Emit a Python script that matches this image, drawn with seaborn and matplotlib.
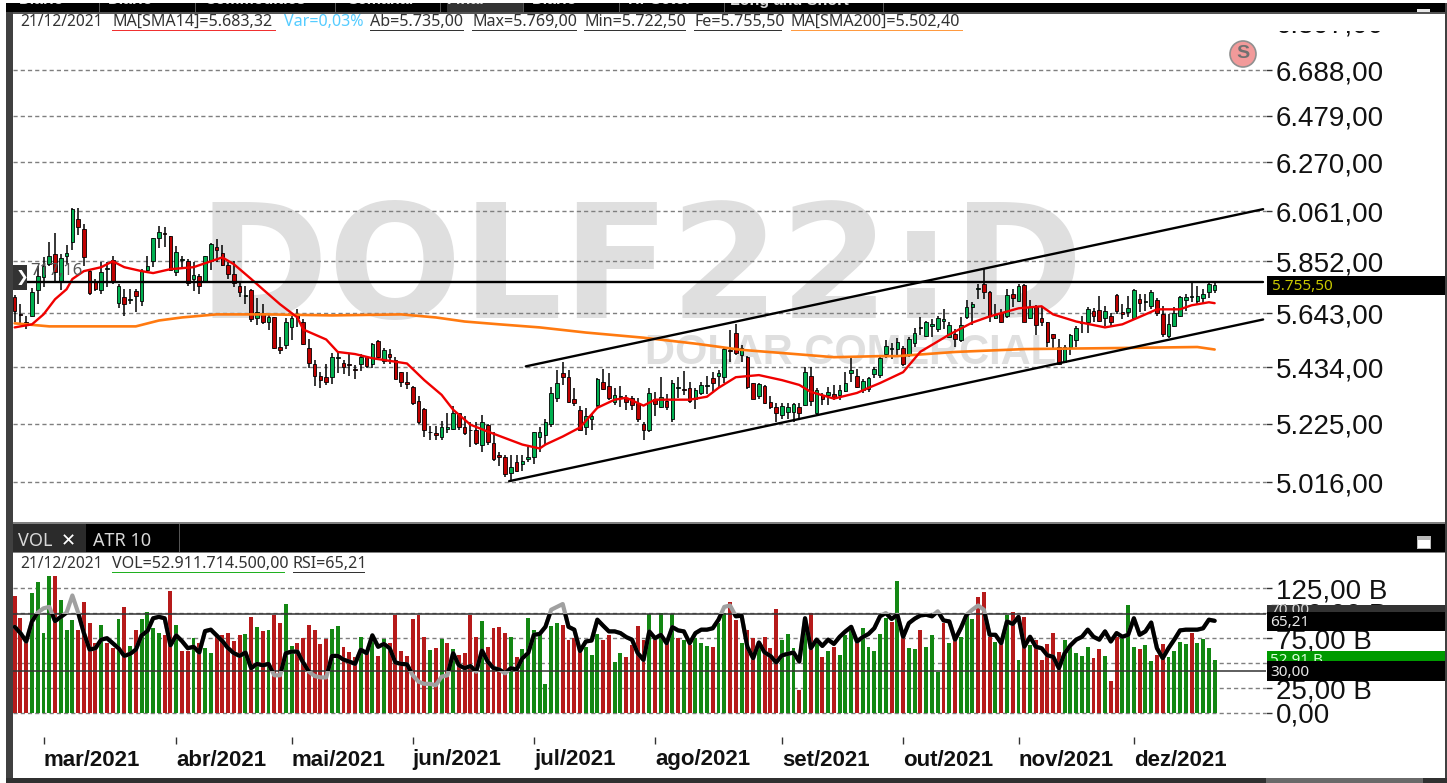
import matplotlib
matplotlib.use("Agg")
import matplotlib.pyplot as plt
from matplotlib.patches import Rectangle, Ellipse
from matplotlib.transforms import ScaledTranslation
import numpy as np
import pandas as pd
import seaborn as sns

W, H = 1447, 783

# candles, in price points, one per session
open_ = [5707,5639,5608,5631,5735,5788,5840,5880,5772,5872,
         5932,6029,5985,5812,5768,5735,5820,5856,5683,5707,
         5695,5731,5691,5816,5852,5948,5969,5957,5808,5856,
         5852,5780,5792,5768,5852,5912,5884,5836,5800,5752,
         5711,5735,5623,5643,5608,5627,5513,5521,5588,5635,
         5611,5509,5446,5401,5397,5397,5469,5450,5446,5427,
         5446,5473,5446,5537,5458,5485,5462,5416,5379,5361,
         5309,5280,5193,5189,5178,5207,5207,5262,5214,5200,
         5200,5146,5221,5153,5110,5106,5049,5085,5081,5096,
         5103,5178,5185,5225,5320,5412,5397,5317,5273,5214,
         5240,5295,5379,5364,5306,5324,5320,5320,5302,5225,
         5200,5317,5287,5309,5240,5357,5353,5357,5317,5339,
         5364,5394,5401,5397,5501,5568,5481,5473,5375,5327,
         5364,5306,5287,5258,5269,5269,5287,5295,5401,5265,
         5331,5331,5335,5331,5346,5412,5401,5350,5353,5408,
         5405,5485,5505,5505,5509,5485,5529,5584,5556,5592,
         5580,5615,5552,5564,5541,5627,5667,5739,5760,5727,
         5623,5643,5631,5719,5691,5756,5623,5667,5623,5608,
         5564,5513,5454,5513,5541,5604,5611,5651,5655,5623,
         5631,5715,5647,5647,5623,5699,5687,5671,5695,5639,
         5556,5592,5631,5695,5707,5691,5703,5727,5735]
high = [5715,5679,5631,5743,5832,5868,5932,5969,5880,5920,
        6073,6073,6005,5820,5780,5848,5848,5872,5760,5739,
        5739,5739,5820,5872,5948,5997,5993,5957,5916,5872,
        5860,5848,5800,5872,5928,5944,5920,5848,5852,5772,
        5752,5739,5703,5679,5639,5627,5552,5623,5635,5659,
        5619,5544,5462,5416,5446,5489,5497,5462,5485,5442,
        5485,5473,5529,5541,5509,5505,5473,5416,5416,5364,
        5327,5284,5218,5218,5236,5265,5291,5265,5251,5229,
        5229,5258,5225,5193,5121,5113,5113,5113,5110,5139,
        5193,5214,5240,5361,5423,5454,5423,5357,5291,5284,
        5265,5394,5427,5412,5357,5364,5331,5327,5320,5229,
        5357,5342,5397,5335,5386,5397,5419,5379,5357,5379,
        5401,5416,5423,5509,5576,5600,5521,5477,5375,5375,
        5368,5327,5302,5302,5302,5302,5302,5434,5434,5357,
        5339,5361,5368,5368,5416,5469,5427,5390,5397,5434,
        5481,5541,5529,5548,5517,5552,5584,5627,5615,5619,
        5631,5659,5608,5580,5627,5695,5687,5760,5824,5731,
        5679,5659,5739,5739,5760,5760,5695,5675,5671,5608,
        5564,5544,5521,5564,5592,5631,5667,5663,5711,5671,
        5643,5719,5679,5711,5739,5719,5719,5735,5703,5671,
        5639,5667,5711,5719,5768,5752,5739,5768,5769]
low = [5611,5600,5580,5627,5679,5747,5832,5768,5735,5840,
       5900,5961,5832,5715,5731,5719,5747,5760,5663,5631,
       5679,5647,5671,5808,5828,5908,5912,5812,5792,5828,
       5752,5731,5719,5764,5816,5848,5832,5780,5747,5707,
       5679,5611,5596,5600,5576,5505,5485,5505,5541,5588,
       5521,5430,5364,5357,5368,5372,5412,5408,5401,5390,
       5419,5430,5430,5469,5446,5446,5390,5361,5353,5295,
       5225,5178,5167,5167,5167,5189,5200,5203,5185,5139,
       5149,5124,5149,5092,5074,5034,5023,5052,5056,5088,
       5081,5124,5146,5214,5306,5368,5302,5291,5200,5185,
       5203,5287,5350,5313,5295,5287,5276,5276,5229,5167,
       5196,5251,5284,5273,5229,5320,5331,5302,5280,5331,
       5335,5339,5357,5375,5454,5481,5454,5353,5317,5317,
       5298,5280,5229,5240,5240,5232,5247,5291,5291,5258,
       5295,5295,5313,5313,5342,5379,5357,5339,5342,5394,
       5394,5469,5466,5481,5438,5473,5513,5560,5552,5552,
       5572,5580,5548,5513,5533,5619,5596,5699,5699,5608,
       5619,5604,5623,5667,5687,5608,5619,5560,5592,5513,
       5509,5442,5450,5481,5513,5568,5568,5611,5608,5592,
       5592,5639,5619,5627,5619,5647,5651,5659,5631,5552,
       5548,5588,5627,5651,5687,5679,5679,5703,5722.5]
close = [5651,5635,5600,5727,5792,5832,5872,5808,5864,5884,
         6069,5993,5868,5723,5739,5808,5824,5768,5752,5679,
         5699,5711,5812,5832,5948,5973,5965,5816,5892,5860,
         5764,5796,5752,5872,5924,5900,5836,5800,5764,5727,
         5715,5619,5647,5608,5627,5509,5501,5611,5623,5623,
         5525,5450,5401,5386,5379,5473,5473,5434,5442,5423,
         5473,5438,5525,5473,5501,5473,5390,5379,5372,5302,
         5229,5200,5196,5185,5214,5211,5265,5211,5189,5203,
         5153,5232,5157,5096,5106,5045,5070,5056,5092,5106,
         5193,5196,5229,5339,5375,5397,5306,5302,5203,5251,
         5251,5390,5353,5320,5331,5327,5306,5295,5243,5203,
         5339,5298,5324,5287,5375,5361,5350,5309,5350,5368,
         5368,5375,5412,5505,5497,5489,5509,5361,5317,5372,
         5302,5287,5265,5291,5287,5298,5265,5416,5309,5350,
         5317,5342,5324,5350,5375,5423,5361,5383,5394,5427,
         5469,5517,5509,5533,5446,5544,5568,5588,5608,5600,
         5623,5619,5596,5544,5596,5667,5679,5743,5727,5631,
         5635,5608,5715,5703,5752,5611,5667,5596,5611,5533,
         5548,5446,5513,5560,5584,5608,5659,5631,5615,5651,
         5608,5651,5639,5663,5735,5683,5691,5727,5643,5564,
         5600,5643,5707,5707,5711,5711,5719,5760,5755.5]

# moving averages read at their turning points
sma14_i = [0,3,5,7,9,10,12,15,17,19,22,24,27,31,33,36,38,41,43,46,49,50,54,56,59,62,68,71,74,76,79,82,88,91,92,95,98,
           101,104,106,109,111,117,120,122,125,129,133,136,138,142,146,148,150,154,157,162,166,169,174,178,180,184,
           189,192,196,198,202,204,207,208]
sma14_p = [5588,5600,5639,5699,5739,5780,5812,5828,5852,5828,5812,5804,5820,5828,5844,5868,5840,5780,5739,5679,5627,
           5580,5541,5493,5485,5469,5449,5386,5331,5276,5221,5196,5149,5135,5149,5178,5211,5283,5313,5320,5291,5313,
           5313,5324,5357,5397,5405,5386,5368,5342,5317,5338,5357,5375,5416,5494,5560,5607,5631,5663,5671,5639,5611,
           5588,5600,5639,5659,5659,5675,5687,5683.32]
sma200_i = [0,6,21,25,29,35,44,55,67,73,78,84,91,99,109,118,126,133,142,150,153,163,175,191,205,208]
sma200_p = [5604,5592,5592,5615,5627,5639,5639,5635,5639,5627,5611,5600,5588,5568,5548,5525,5501,5489,5473,5477,5477,
            5493,5504,5508,5512,5502.40]

# drawn trend channel and the resistance line
channel_up_i, channel_up_p = [88.6, 216.4], [5438, 6069]
channel_low_i, channel_low_p = [85.7, 216.4], [5019, 5619]
resist_i, resist_p = [-0.3, 216.4], [5768, 5768]

price_ticks = [5016, 5225, 5434, 5643, 5852, 6061, 6270, 6479, 6688]
price_labels = ["5.016,00", "5.225,00", "5.434,00", "5.643,00", "5.852,00", "6.061,00", "6.270,00", "6.479,00", "6.688,00"]

# volume in billions
volume = [117,95,75,120,131,80,137,137,113,83,93,83,111,90,70,88,70,65,94,106,67,83,94,101,85,80,78,122,88,62,62,75,70,65,60,
          76,78,80,72,78,79,96,86,82,83,98,90,109,67,70,75,88,83,69,74,84,87,66,61,56,76,60,78,57,74,70,98,62,57,94,98,76,
          63,65,74,70,64,58,60,98,76,
          92,66,85,86,80,76,56,64,95,83,80,29,87,90,88,73,75,63,66,58,79,73,78,51,60,56,68,87,73,99,75,100,75,99,75,73,68,
          75,70,67,66,90,100,111,93,70,83,75,71,76,65,104,73,79,65,23,94,100,70,56,62,66,58,78,83,71,85,66,62,79,95,91,132,
          76,65,64,83,66,78,41,90,70,75,
          76,100,94,116,121,76,71,70,98,101,53,96,68,73,53,69,80,61,73,67,60,57,66,55,64,57,32,76,76,108,66,64,68,52,58,69,
          56,62,71,69,80,70,74,65,52.91]
volume_dir = list("RRRGGGGRGG" "GRRRRGRRGR" "GRGGGGRRGR" "RGRGGRRRRR" "GRGRGRRGGR"
                  "RRRRRGGRRR" "GRGRGRRRRR" "RRGRGRGRRR" "R"
                  "GRRRRGRGGG" "GGGGRRRRGG" "GRRGGRRRRG" "RGRGRGRGGG" "RGGRRGRRGR"
                  "RRGGGRGRGR" "GRGGGRGGGG" "GRGRGGRGGG" "RGR"
                  "GGGRRRGRGR" "GRGRRRRRGG" "GGGRRGRRGG" "GRGGRRGGGG" "RGGGG")
rsi = [61,56.6,50.7,64.8,71,74,75,65,68,71,83,71,56.6,45,46,52,53,49.5,46,40.6,42,45,55,58,67,68,67,48,55,51,46,47,43,58,59,
       55,51,46,42.5,40.6,43,32,35,34,35,27,27,42.5,43.6,43.6,36,29.5,26.5,25.5,25.5,40.6,40.6,38,36.6,35,45,42.5,55,47,49,
       46,36,35,34.7,27,22.5,21,21,20,26,27,42.5,34,32,33.5,29.5,
       44.4,36.6,32,31,28.4,32,31,39,42.5,55.4,56,61,73,75,77,61,59,44,50.7,51.4,66,61.8,57.8,57.8,56.6,53.8,52,42.5,37.8,
       57.8,53,55.4,49.5,60.8,58.5,57.8,49.5,56.6,59,59,60,66,75,76,68.4,68.8,47,39,50,43,40.6,36,41,42,43,36.6,67,46,52,
       47.6,52,49,54,57.8,61,50.7,53.8,56,60,68.4,70.7,66.5,69.5,54,63.6,66.7,69,69.5,68.4,71.9,65.5,64.8,52,
       60,69.5,73,76,73,55.4,55.4,49.5,64.8,63,68,47,54,47,46,41,40,32,42.5,48,52,54,59,54,52,57.8,50.7,56.6,54,55.4,67,
       55.4,57.8,64,46,39,46,52,58.5,59,59,59,60,66,65.21]
vol_ticks = [0, 25, 50, 75, 100, 125]
vol_labels = ["0,00", "25,00 B", "50,00 B", "75,00 B", "100,00 B", "125,00 B"]

month_ticks = [5, 28, 48, 69, 90, 111, 133, 154, 174, 194]
month_labels = ["mar/2021", "abr/2021", "mai/2021", "jun/2021", "jul/2021", "ago/2021", "set/2021", "out/2021", "nov/2021", "dez/2021"]

tab_names = ["Diário", "Diário", "Commodities", "Semanal", "Final", "Diário", "Hr Setor", "Long and Short"]
tab_x = [19, 108, 204, 348, 447, 532, 628, 730]

assert len(open_) == len(high) == len(low) == len(close) == len(volume) == len(volume_dir) == len(rsi) == 209

sns.set_theme(style="white")
plt.rcParams["font.family"] = ["Liberation Sans", "DejaVu Sans"]
plt.rcParams["axes.unicode_minus"] = False

fig = plt.figure(figsize=(W / 100, H / 100), dpi=100, facecolor="white")

def add_axes_px(x0, y0, x1, y1):
    return fig.add_axes([x0 / W, 1 - y1 / H, (x1 - x0) / W, (y1 - y0) / H])

def box(x0, y0, x1, y1, color, z=5):
    fig.add_artist(Rectangle((x0 / W, 1 - y1 / H), (x1 - x0) / W, (y1 - y0) / H, transform=fig.transFigure,
                             facecolor=color, edgecolor="none", zorder=z))

def label(x, y, s, z=7, **kw):
    kw.setdefault("va", "center")
    kw.setdefault("ha", "left")
    fig.text(x / W, 1 - y / H, s, zorder=z, **kw)

idx = np.arange(len(close))
xlim = (-0.29, 216.9)
GRID = "#7f7f7f"
dash = (0, (3, 2.2))

# ---- price panel ----
ax = add_axes_px(13, 31, 1266, 522)
ax.set_yscale("log")
ax.set_axisbelow(True)
ax.yaxis.grid(True, color=GRID, lw=1, linestyle=dash)

o, h, l, c = map(np.array, (open_, high, low, close))
up = c >= o
body_colors = np.where(up, "#00b050", "#c00000")
ax.vlines(idx, l, h, color="black", lw=1.1, zorder=2)
ax.bar(idx, np.maximum(np.abs(c - o), 3), bottom=np.minimum(o, c), width=0.62, color=body_colors,
       edgecolor="black", linewidth=0.6, zorder=3)

sns.lineplot(x=sma200_i, y=sma200_p, ax=ax, color="#ff7a10", lw=1.9, estimator=None, sort=False, zorder=4)
sns.lineplot(x=sma14_i, y=sma14_p, ax=ax, color="#f00000", lw=1.7, estimator=None, sort=False, zorder=4)
for xs, ys in [(channel_up_i, channel_up_p), (channel_low_i, channel_low_p), (resist_i, resist_p)]:
    sns.lineplot(x=xs, y=ys, ax=ax, color="black", lw=1.7, estimator=None, sort=False, zorder=4)

ax.set_yticks(price_ticks)
ax.set_yticklabels(price_labels, fontsize=20, color="#111111")
ax.minorticks_off()
ax.yaxis.tick_right()
ax.tick_params(axis="y", which="major", right=True, length=4.5, width=1, color="#333333", pad=2.5)
ax.set_xticks([])
ax.set_xlabel("")
ax.set_ylabel("")
ax.set_xlim(xlim)
ax.set_ylim(4878, 6873)
for s in ax.spines.values():
    s.set_visible(False)
ax.patch.set_alpha(0)

# the top price label is cut by the header strip
label(1276, 26, "6.897,00", z=3, fontsize=20, color="#111111")

# watermark, under the marks
wm = add_axes_px(13, 31, 1266, 522)
wm.set_zorder(-1)
wm.axis("off")
wm.set_xlim(13, 1266)
wm.set_ylim(522, 31)
wm.text(198, 318, "DOLF22:D", fontsize=113.5, fontweight="bold", color="#dfdfdf", va="baseline", ha="left",
        family=["DejaVu Sans"])
wm.text(645, 364, "DOLAR COMERCIAL", fontsize=30, fontweight="bold", color="#dfdfdf", va="baseline", ha="left")

# ---- volume / rsi panel ----
ax2 = add_axes_px(13, 553, 1266, 737)
vol_df = pd.DataFrame({"i": idx, "vol": volume, "dir": volume_dir})
sns.barplot(data=vol_df, x="i", y="vol", hue="dir", palette={"G": "#009a00", "R": "#d00000"}, native_scale=True,
            dodge=False, width=0.68, legend=False, ax=ax2, linewidth=0, zorder=2)
ax2.set_axisbelow(True)
ax2.yaxis.grid(True, color=GRID, lw=1, linestyle=dash)
ax2.set_xlim(xlim)
ax2.set_ylim(-24, 160)

ax3 = ax2.twinx()
ax3.axis("off")
ax3.set_ylim(-16.3, 112.8)
ax3.set_xlim(xlim)
ax3.axhline(70, color="#333333", lw=1.1, zorder=3)
ax3.axhline(30, color="#333333", lw=1.1, zorder=3)
sns.lineplot(x=idx, y=rsi, ax=ax3, color="#a0a0a0", lw=3, estimator=None, sort=False, zorder=4)
sns.lineplot(x=idx, y=rsi, ax=ax3, color="black", lw=3, estimator=None, sort=False, zorder=5)
ax3.lines[-1].set_clip_path(Rectangle((-1, 30), 230, 40, transform=ax3.transData))
ax3.set_xlabel("")
ax3.set_ylabel("")

ax2.set_yticks(vol_ticks)
ax2.set_yticklabels(vol_labels, fontsize=20, color="#111111")
ax2.yaxis.tick_right()
ax2.tick_params(axis="y", right=True, left=False, length=4.5, width=1, color="#333333", pad=2.5)
ax2.set_xticks(month_ticks)
ax2.set_xticklabels(month_labels, fontsize=16, fontweight="bold", color="#111111", ha="left")
shift = ScaledTranslation(-3 / 100, 0, fig.dpi_scale_trans)
for t in ax2.get_xticklabels():
    t.set_transform(t.get_transform() + shift)
ax2.tick_params(axis="x", bottom=True, length=5, width=1, color="#333333", pad=4)
ax2.set_xlabel("")
ax2.set_ylabel("")
ax2.set_xlim(xlim)
ax2.set_ylim(-24, 160)
for s in ax2.spines.values():
    s.set_visible(False)

# ---- window frame ----
box(6, 0, 13, H, "#404040")
box(6, 3, W, 12, "black")
box(447, 3, 523, 12, "#333333")
for x in [99, 195, 335, 440, 523, 619, 724, 883]:
    box(x, 3, x + 1, 12, "#555555", z=6)
box(1417, 9, 1430, 12, "#e8e8e8", z=6)
for name, x in zip(tab_names, tab_x):
    label(x, 0, name, fontsize=11.5, fontweight="bold", color="#d8d8d8", z=6)
box(0, 0, W, 3, "white", z=6.5)
box(13, 12, W, 31, "white", z=5)
box(13, 12, W - 2, 13.5, "#555555", z=5.5)
box(W - 2, 3, W, H, "#404040", z=6)

box(13, 522, W - 2, 553, "black")
box(13, 522, W - 2, 524, "#808080", z=5.5)
box(13, 552, W - 2, 553, "#808080", z=5.5)
box(13, 524, 86, 552, "#2b2b2b", z=5.5)
box(179, 524, 180, 552, "#555555", z=5.5)
label(18, 541, "VOL", fontsize=13, color="#d8d8d8", family=["Noto Sans", "DejaVu Sans"])
label(61, 541, "✕", fontsize=13, fontweight="bold", color="white", family=["DejaVu Sans"])
label(93, 541, "ATR 10", fontsize=13, color="#d8d8d8", family=["Noto Sans", "DejaVu Sans"])
box(1417, 536, 1431, 549, "#b8b8b8", z=6)
box(1418, 540, 1430, 548, "white", z=7)
box(6, 778, W, H, "#303030", z=6)
box(1266, 778, 1423, H, "#6a6a6a", z=6.5)

# ---- header texts ----
hfont = ["Noto Sans", "DejaVu Sans"]
TXT = "#333333"
label(20, 22, "21/12/2021", fontsize=11.2, color=TXT, family=hfont)
for x0, x1, s, col, ucol in [(112, 276, "MA[SMA14]=5.683,32", TXT, "#f03030"),
                             (284, 362, "Var=0,03%", "#55ccff", None),
                             (370, 464, "Ab=5.735,00", TXT, "#333333"),
                             (472, 577, "Max=5.769,00", TXT, "#333333"),
                             (584, 686, "Min=5.722,50", TXT, "#333333"),
                             (694, 782, "Fe=5.755,50", TXT, "#333333"),
                             (791, 963, "MA[SMA200]=5.502,40", TXT, "#ff9a40")]:
    label(x0, 22, s, fontsize=11.6, color=col, family=hfont)
    if ucol:
        box(x0, 30, x1, 31, ucol, z=7)

label(20, 564, "21/12/2021", fontsize=11.2, color=TXT, family=hfont)
label(112, 564, "VOL=52.911.714.500,00", fontsize=11.6, color=TXT, family=hfont)
label(293, 564, "RSI=65,21", fontsize=11.6, color=TXT, family=hfont)
box(112, 571.5, 285, 572.5, "#20b020", z=7)
box(293, 571.5, 365, 572.5, "#333333", z=7)

# ---- value flags on the right ----
small = dict(fontsize=11, family=hfont)
box(1267, 276, 1445, 295, "black")
label(1272, 286, "5.755,50", color="#c8c800", **small)
box(1267, 605, 1445, 612, "#333333", z=5)
label(1270, 610, "70,00", color="#d8d8d8", z=5.2, **small)
box(1267, 612, 1445, 631, "black", z=5.5)
label(1270, 622, "65,21", color="#e8e8e8", **small)
box(1267, 651, 1445, 661, "#009a00", z=5)
label(1270, 660, "52,91 B", color="#d8ffd8", z=5.2, **small)
box(1267, 661, 1445, 681, "black", z=5.5)
label(1270, 672, "30,00", color="#e8e8e8", **small)

# marks drawn on top of the chart
box(13, 265, 27, 290, "#333333", z=5)
label(15.5, 277.5, "❯", fontsize=11, color="white", family=["DejaVu Sans"])
label(30, 271, "717,16", fontsize=12, color="#555555", family=hfont)
fig.add_artist(Ellipse((1243 / W, 1 - 54 / H), 26 / W, 26 / H, transform=fig.transFigure, facecolor="#f29a9a",
                       edgecolor="#909090", lw=1.2, zorder=5))
label(1243, 54, "S", fontsize=14, fontweight="bold", color="#707070", ha="center")

fig.savefig("out.png", dpi=100)
